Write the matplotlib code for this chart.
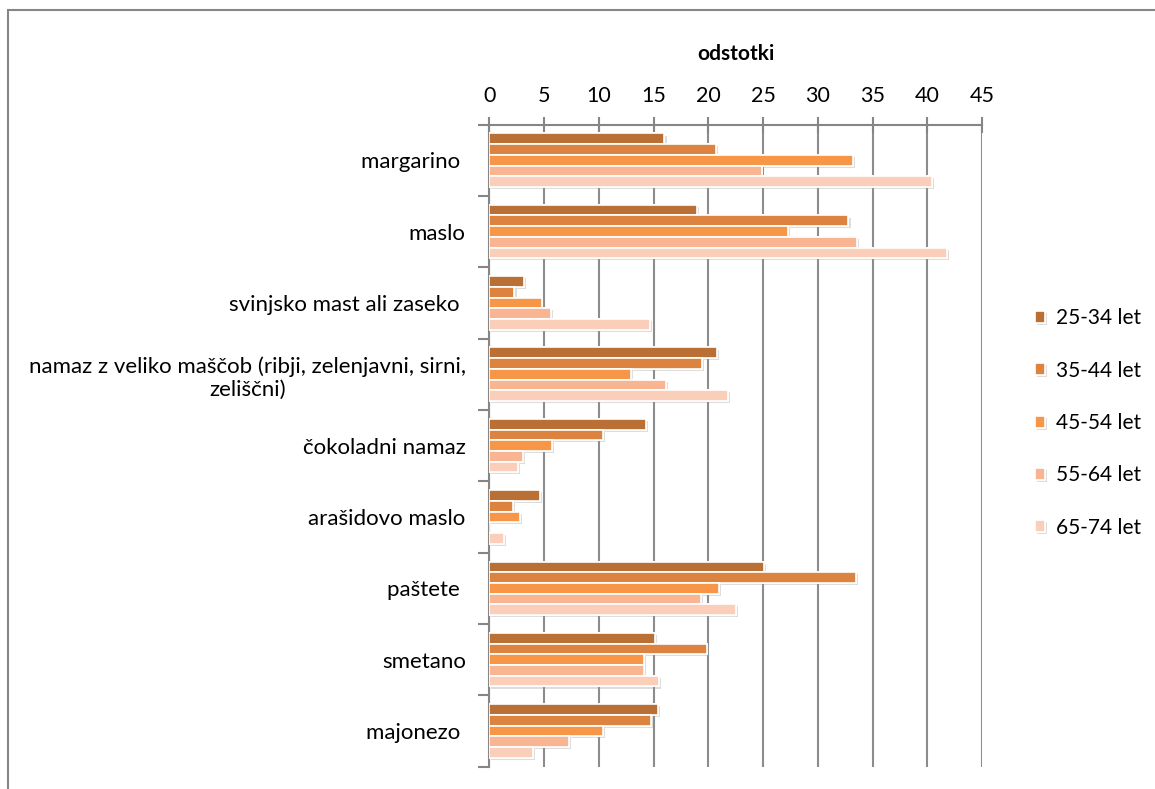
import matplotlib
matplotlib.use("Agg")
import matplotlib.pyplot as plt
import matplotlib.patheffects as pe
from matplotlib.patches import Rectangle
import numpy as np

plt.rcParams['font.family'] = ['Lato', 'DejaVu Sans']

categories = [
    "margarino ",
    "maslo",
    "svinjsko mast ali zaseko ",
    "namaz z veliko maščob (ribji, zelenjavni, sirni,\nzeliščni)",
    "čokoladni namaz",
    "arašidovo maslo",
    "paštete ",
    "smetano",
    "majonezo ",
]
age_groups = ["25-34 let", "35-44 let", "45-54 let", "55-64 let", "65-74 let"]

v_25_34 = [16.0, 19.0, 3.2, 20.8, 14.3, 4.6, 25.1, 15.1, 15.4]
v_35_44 = [20.7, 32.8, 2.3, 19.4, 10.4, 2.2, 33.5, 19.9, 14.8]
v_45_54 = [33.2, 27.3, 4.8, 12.9, 5.7, 2.8, 21.0, 14.1, 10.4]
v_55_64 = [24.9, 33.6, 5.6, 16.1, 3.1, 0.0, 19.3, 14.1, 7.3]
v_65_74 = [40.4, 41.8, 14.7, 21.8, 2.6, 1.3, 22.5, 15.5, 4.0]
series = [v_25_34, v_35_44, v_45_54, v_55_64, v_65_74]

colors = ["#BA7034", "#DC843F", "#F79646", "#F9B592", "#FBCEBA"]
x_ticks = list(range(0, 50, 5))

fig = plt.figure(figsize=(11.55, 7.89), dpi=100)
W, H = 1155, 789
ax = fig.add_axes([489.3 / W, 1 - 766.7 / H, (982.0 - 489.3) / W, (766.7 - 124.5) / H])

# outer chart frame (top and left edges visible)
frame = Rectangle((8 / W, -0.05), 1.2, 1 - 10 / H + 0.05, transform=fig.transFigure,
                  fill=False, edgecolor="#868686", linewidth=1.5, zorder=0)
fig.add_artist(frame)

y = np.arange(len(categories))
bar_h = 0.15
shadow = [pe.withSimplePatchShadow(offset=(1.5, -1.5), shadow_rgbFace="#A0A0A0", alpha=0.35),
          pe.Normal()]
handles = []
for j, (vals, col, lab) in enumerate(zip(series, colors, age_groups)):
    bars = ax.barh(y + (j - 2) * bar_h, vals, height=bar_h, color=col,
                   edgecolor="white", linewidth=1.2, label=lab, zorder=3)
    for b in bars:
        if b.get_width() > 0:
            b.set_path_effects(shadow)
    handles.append(bars)

ax.set_xlim(0, 45)
ax.set_ylim(len(categories) - 0.5, -0.5)
ax.set_xticks(x_ticks)
ax.xaxis.tick_top()
ax.xaxis.set_label_position("top")
ax.set_xlabel("odstotki", fontsize=15, fontweight="bold", labelpad=19)
ax.tick_params(axis="x", direction="inout", length=12, width=1.5, color="#868686",
               labelsize=15.5, pad=7)

ax.set_yticks(np.arange(len(categories) + 1) - 0.5, minor=False)
ax.set_yticklabels([])
ax.set_yticks(y, minor=True)
ax.set_yticklabels(categories, minor=True, fontsize=16, ha="right", multialignment="center")
ax.tick_params(axis="y", which="major", direction="out", length=8, width=1.5, color="#868686")
ax.tick_params(axis="y", which="minor", length=0, pad=17)

ax.grid(axis="x", color="#8C8C8C", linewidth=1.5, zorder=0)
ax.set_axisbelow(True)
for s in ["right", "bottom"]:
    ax.spines[s].set_visible(False)
for s in ["top", "left"]:
    ax.spines[s].set_color("#868686")
    ax.spines[s].set_linewidth(1.5)

fig.legend(handles=handles, labels=age_groups, loc="center left",
           bbox_to_anchor=(1016 / W, 1 - 423 / H), frameon=False, fontsize=15,
           handlelength=0.5, handleheight=0.5, handletextpad=0.5, labelspacing=1.55)

fig.savefig("out.png", dpi=100)
